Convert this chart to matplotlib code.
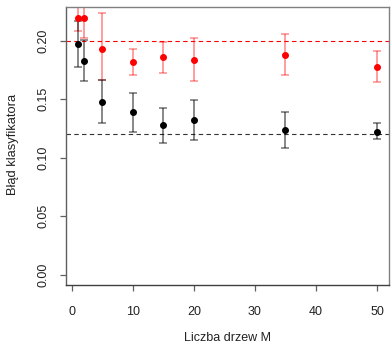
import matplotlib
matplotlib.use("Agg")
import matplotlib.pyplot as plt
import numpy as np

plt.rcParams['font.family'] = ['Liberation Sans', 'DejaVu Sans']

# number of trees
trees = [1, 2, 5, 10, 15, 20, 35, 50]

# test error (red) with lower / upper bounds
test_err = [0.219, 0.219, 0.193, 0.182, 0.1857, 0.1838, 0.188, 0.1778]
test_lo = [0.208, 0.202, 0.166, 0.1707, 0.1726, 0.1655, 0.1704, 0.1647]
test_hi = [0.230, 0.236, 0.2236, 0.193, 0.1991, 0.2023, 0.2054, 0.1909]

# training error (black) with lower / upper bounds
train_err = [0.1972, 0.1829, 0.1479, 0.1387, 0.128, 0.1319, 0.1239, 0.1222]
train_lo = [0.1775, 0.1652, 0.1296, 0.1222, 0.1126, 0.1148, 0.1080, 0.1160]
train_hi = [0.217, 0.2006, 0.166, 0.1553, 0.1425, 0.1496, 0.1391, 0.1293]

# reference levels
test_ref = 0.20
train_ref = 0.12

y_ticks = [0.00, 0.05, 0.10, 0.15, 0.20]
x_ticks = [0, 10, 20, 30, 40, 50]

W, H = 391, 346
fig = plt.figure(figsize=(W / 100, H / 100), dpi=100)
ax = fig.add_axes([66 / W, 61 / H, 323 / W, 278 / H])

x = np.array(trees)


def draw_series(vals, lo, hi, color, bar_alpha):
    vals = np.array(vals)
    yerr = np.vstack([vals - np.array(lo), np.array(hi) - vals])
    ax.errorbar(x, vals, yerr=yerr, fmt='none', ecolor=color, alpha=bar_alpha,
                elinewidth=1.2, capsize=2.6, capthick=1.1, zorder=2)
    ax.plot(x, vals, 'o', color=color, markersize=4.0, zorder=3)


ax.axhline(test_ref, color='red', lw=0.8, ls=(0, (4, 3)), zorder=1)
ax.axhline(train_ref, color='#333333', lw=0.8, ls=(0, (4, 3)), zorder=1)

draw_series(test_err, test_lo, test_hi, 'red', 0.45)
draw_series(train_err, train_lo, train_hi, 'black', 0.55)

ax.set_xlim(-0.96, 51.96)
ax.set_ylim(-0.0088, 0.2288)
ax.set_xticks(x_ticks)
ax.set_xticklabels([str(t) for t in x_ticks])
ax.set_yticks(y_ticks)
ax.set_yticklabels([f"{t:.2f}" for t in y_ticks], rotation=90, va='center')

for s in ax.spines.values():
    s.set_color('#808080')
    s.set_linewidth(1.0)
ax.spines['left'].set_color('#606060')
ax.spines['bottom'].set_color('#404040')

ax.tick_params(axis='both', length=4, width=0.9, color='#606060',
               labelsize=9, labelcolor='#222222')
ax.tick_params(axis='x', pad=11)
ax.tick_params(axis='y', pad=8)

# axis titles placed in figure coordinates
fig.text((66 + 389) / 2 / W, 1 - 338 / H, "Liczba drzew M", fontsize=9,
         color='#222222', ha='center', va='center')
fig.text(13 / W, 1 - 144 / H, "Błąd klasyfikatora", fontsize=9.3,
         color='#222222', ha='center', va='center', rotation=90)

fig.savefig("out.png", dpi=100)
